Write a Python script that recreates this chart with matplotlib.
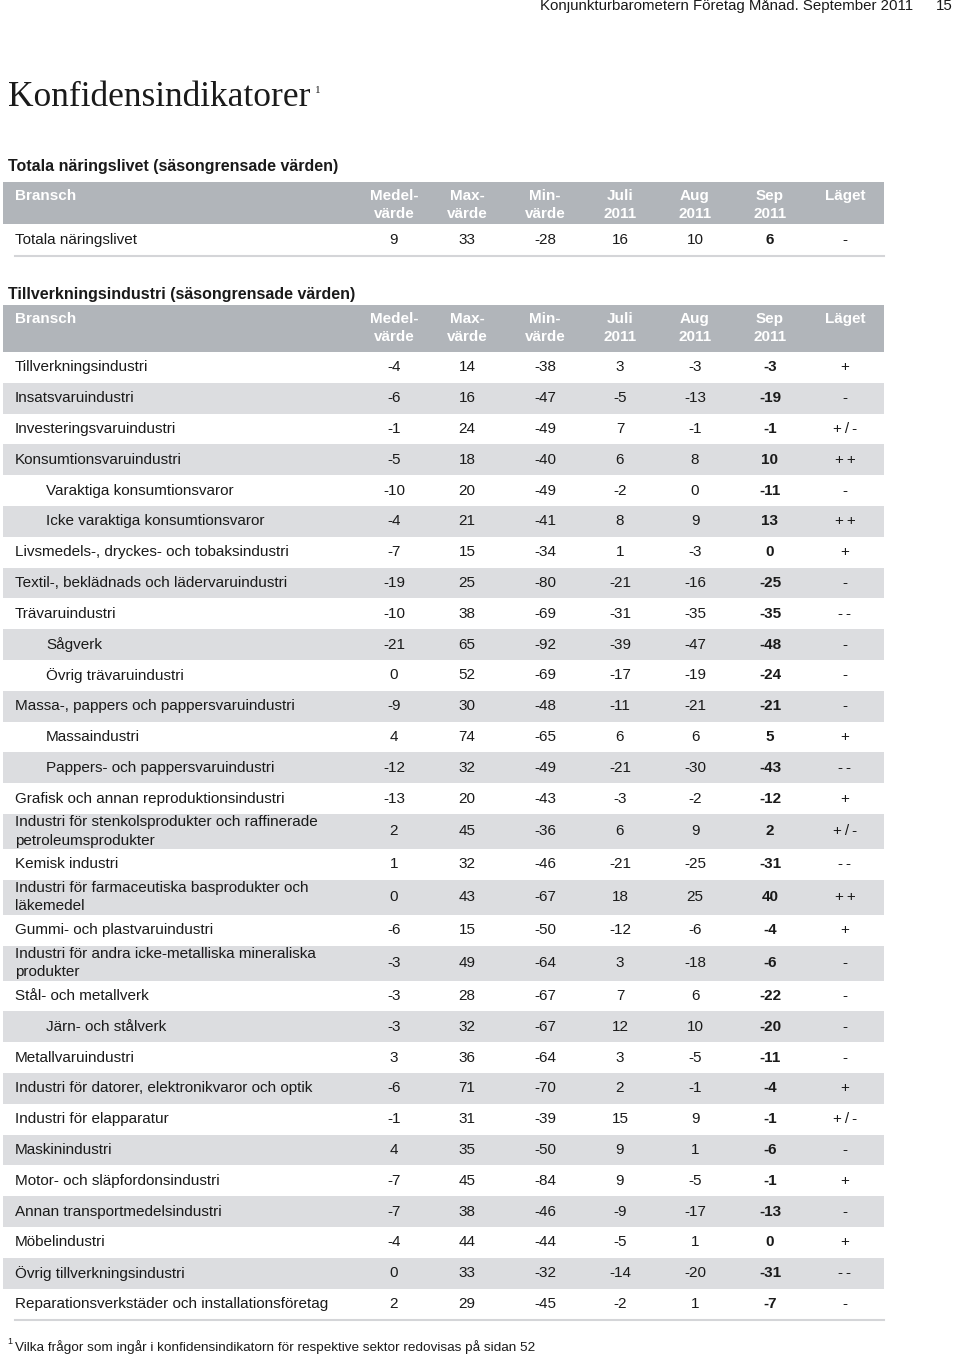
import matplotlib
matplotlib.use('Agg')
import matplotlib.pyplot as plt
from matplotlib.patches import Rectangle

plt.rcParams['font.family'] = ['Liberation Sans', 'DejaVu Sans']

# Header columns
col_lines = [('Medel-', 'värde'), ('Max-', 'värde'), ('Min-', 'värde'),
             ('Juli', '2011'), ('Aug', '2011'), ('Sep', '2011'), ('Läget', '')]

# Table 1: Totala näringslivet
tot_label = 'Totala näringslivet'
tot_values = ['9', '33', '-28', '16', '10', '6', '-']

# Table 2: Tillverkningsindustri
labels = [
    'Tillverkningsindustri', 'Insatsvaruindustri', 'Investeringsvaruindustri',
    'Konsumtionsvaruindustri', 'Varaktiga konsumtionsvaror', 'Icke varaktiga konsumtionsvaror',
    'Livsmedels-, dryckes- och tobaksindustri', 'Textil-, beklädnads och lädervaruindustri',
    'Trävaruindustri', 'Sågverk', 'Övrig trävaruindustri',
    'Massa-, pappers och pappersvaruindustri', 'Massaindustri',
    'Pappers- och pappersvaruindustri', 'Grafisk och annan reproduktionsindustri',
    'Industri för stenkolsprodukter och raffinerade\npetroleumsprodukter',
    'Kemisk industri',
    'Industri för farmaceutiska basprodukter och\nläkemedel',
    'Gummi- och plastvaruindustri',
    'Industri för andra icke-metalliska mineraliska\nprodukter',
    'Stål- och metallverk', 'Järn- och stålverk', 'Metallvaruindustri',
    'Industri för datorer, elektronikvaror och optik', 'Industri för elapparatur',
    'Maskinindustri', 'Motor- och släpfordonsindustri', 'Annan transportmedelsindustri',
    'Möbelindustri', 'Övrig tillverkningsindustri',
    'Reparationsverkstäder och installationsföretag',
]
indented = [4, 5, 9, 10, 12, 13, 21]
medel = [-4, -6, -1, -5, -10, -4, -7, -19, -10, -21, 0, -9, 4, -12, -13, 2, 1, 0, -6, -3, -3, -3, 3, -6, -1, 4, -7, -7, -4, 0, 2]
maxv = [14, 16, 24, 18, 20, 21, 15, 25, 38, 65, 52, 30, 74, 32, 20, 45, 32, 43, 15, 49, 28, 32, 36, 71, 31, 35, 45, 38, 44, 33, 29]
minv = [-38, -47, -49, -40, -49, -41, -34, -80, -69, -92, -69, -48, -65, -49, -43, -36, -46, -67, -50, -64, -67, -67, -64, -70, -39, -50, -84, -46, -44, -32, -45]
juli = [3, -5, 7, 6, -2, 8, 1, -21, -31, -39, -17, -11, 6, -21, -3, 6, -21, 18, -12, 3, 7, 12, 3, 2, 15, 9, 9, -9, -5, -14, -2]
aug = [-3, -13, -1, 8, 0, 9, -3, -16, -35, -47, -19, -21, 6, -30, -2, 9, -25, 25, -6, -18, 6, 10, -5, -1, 9, 1, -5, -17, 1, -20, 1]
sep = [-3, -19, -1, 10, -11, 13, 0, -25, -35, -48, -24, -21, 5, -43, -12, 2, -31, 40, -4, -6, -22, -20, -11, -4, -1, -6, -1, -13, 0, -31, -7]
laget = ['+', '-', '+/-', '++', '-', '++', '+', '-', '--', '-', '-', '-', '+', '--', '+',
         '+/-', '--', '++', '+', '-', '-', '-', '-', '+', '+/-', '-', '+', '-', '+', '--', '-']

col_x = [394, 467, 545, 620, 695, 770, 845]
header_c = '#b1b5ba'
shade_c = '#dcdde0'
txt_c = '#1a1a1a'
fs = 11

fig = plt.figure(figsize=(9.6, 13.56), dpi=100)
ax = fig.add_axes([0, 0, 1, 1])
ax.set_xlim(0, 960)
ax.set_ylim(1356, 0)
ax.axis('off')

# page header and title
ax.text(913, 6, 'Konjunkturbarometern Företag Månad. September 2011',
        ha='right', va='center', fontsize=10.8, color=txt_c)
ax.text(953, 6, '15', ha='right', va='center', fontsize=10.8, color=txt_c)
title = ax.text(8, 98, 'Konfidensindikatorer', ha='left', va='center', fontsize=25.5,
                family=['Liberation Serif', 'DejaVu Serif'], color=txt_c)
ax.annotate('1', xy=(1, 0.72), xycoords=title, xytext=(3, 0), textcoords='offset points',
            ha='left', va='center', fontsize=8,
            family=['Liberation Serif', 'DejaVu Serif'], color=txt_c)


def draw_header(y0, y1):
    ax.add_patch(Rectangle((3, y0), 881, y1 - y0, color=header_c, lw=0))
    ax.text(15, y0 + 14, 'Bransch', ha='left', va='center', fontsize=fs,
            fontweight='bold', color='white')
    for x, (l1, l2) in zip(col_x, col_lines):
        ax.text(x, y0 + 14, l1, ha='center', va='center', fontsize=fs,
                fontweight='bold', color='white')
        if l2:
            ax.text(x, y0 + 32, l2, ha='center', va='center', fontsize=fs,
                    fontweight='bold', color='white')


def draw_values(yc, vals):
    for i, (x, v) in enumerate(zip(col_x, vals)):
        s = str(v)
        if i == 6:
            s = '\u2009'.join(s)
        ax.text(x, yc, s, ha='center', va='center', fontsize=fs,
                fontweight='bold' if i == 5 else 'normal', color=txt_c)


# Table 1
ax.text(8, 166, 'Totala näringslivet (säsongrensade värden)', ha='left', va='center',
        fontsize=11.5, fontweight='bold', color=txt_c)
draw_header(182, 224)
ax.text(15, 240, tot_label, ha='left', va='center', fontsize=fs, color=txt_c)
draw_values(240, tot_values)
ax.plot([15, 884], [256, 256], color='#d4d5d8', lw=1.5)

# Table 2
ax.text(8, 295, 'Tillverkningsindustri (säsongrensade värden)', ha='left', va='center',
        fontsize=11.5, fontweight='bold', color=txt_c)
draw_header(305, 352)

y = 352
for i, lab in enumerate(labels):
    h = 35 if '\n' in lab else 30.8
    if i % 2 == 1:
        ax.add_patch(Rectangle((3, y), 881, h, color=shade_c, lw=0))
    yc = y + h / 2
    lx = 46 if i in indented else 15
    ax.text(lx, yc, lab, ha='left', va='center', fontsize=fs, color=txt_c,
            linespacing=1.4)
    draw_values(yc, [medel[i], maxv[i], minv[i], juli[i], aug[i], sep[i], laget[i]])
    y += h
ax.plot([15, 884], [y + 1, y + 1], color='#d4d5d8', lw=1.5)

# footnote
ax.text(7, 1341, '1', ha='left', va='center', fontsize=6.5, color=txt_c)
ax.text(15, 1347, 'Vilka frågor som ingår i konfidensindikatorn för respektive sektor redovisas på sidan 52',
        ha='left', va='center', fontsize=9.7, color=txt_c)

fig.savefig('out.png', dpi=100)
